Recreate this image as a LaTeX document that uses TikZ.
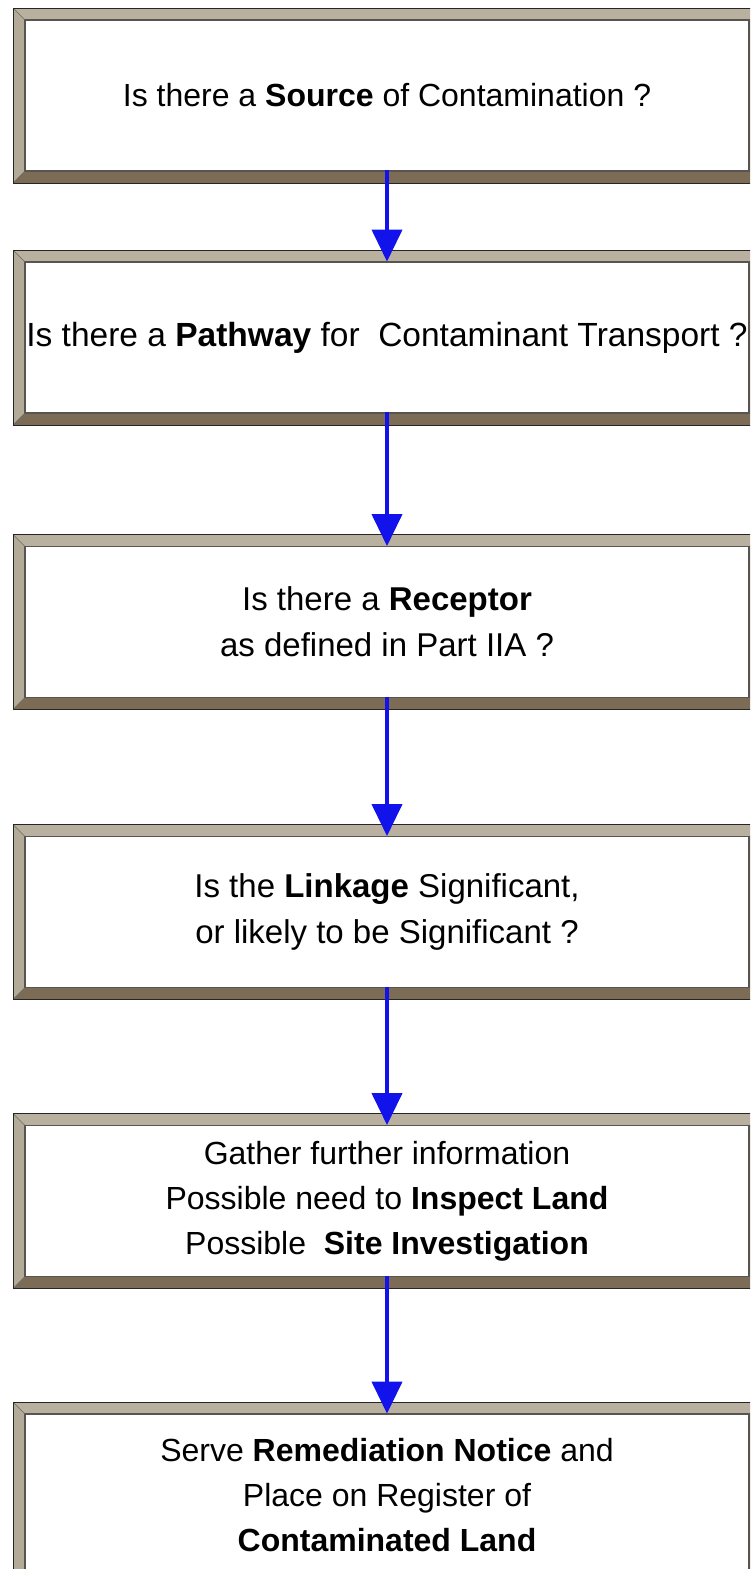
\documentclass[tikz,border=0pt]{standalone}
\usepackage{fontspec}
\setmainfont{Liberation Sans}
\usetikzlibrary{arrows.meta}
\definecolor{bevtop}{RGB}{186,176,159}
\definecolor{bevleft}{RGB}{180,170,152}
\definecolor{bevbot}{RGB}{124,108,86}
\definecolor{bevright}{RGB}{110,96,78}
\definecolor{innerline}{RGB}{88,84,80}
\definecolor{arrblue}{RGB}{18,18,235}
\tikzset{
  bevbox/.style={rectangle, minimum width=748pt, minimum height=175pt, inner sep=0pt,
    fill=white, draw=black!85, line width=0.8pt, align=center,
    font=\fontsize{32}{45}\selectfont,
    path picture={
      \fill[bevtop] (path picture bounding box.north west) -- (path picture bounding box.north east)
        -- ([shift={(-12pt,-12pt)}]path picture bounding box.north east)
        -- ([shift={(12pt,-12pt)}]path picture bounding box.north west) -- cycle;
      \fill[bevleft] (path picture bounding box.north west) -- (path picture bounding box.south west)
        -- ([shift={(12pt,12pt)}]path picture bounding box.south west)
        -- ([shift={(12pt,-12pt)}]path picture bounding box.north west) -- cycle;
      \fill[bevbot] (path picture bounding box.south west) -- (path picture bounding box.south east)
        -- ([shift={(-12pt,12pt)}]path picture bounding box.south east)
        -- ([shift={(12pt,12pt)}]path picture bounding box.south west) -- cycle;
      \fill[bevright] (path picture bounding box.north east) -- (path picture bounding box.south east)
        -- ([shift={(-12pt,12pt)}]path picture bounding box.south east)
        -- ([shift={(-12pt,-12pt)}]path picture bounding box.north east) -- cycle;
      \draw[innerline, line width=1.5pt] ([shift={(12pt,-12pt)}]path picture bounding box.north west)
        rectangle ([shift={(-12pt,12pt)}]path picture bounding box.south east);
      \draw[black!60, line width=0.6pt] (path picture bounding box.north west) -- ([shift={(12pt,-12pt)}]path picture bounding box.north west);
      \draw[black!60, line width=0.6pt] (path picture bounding box.south west) -- ([shift={(12pt,12pt)}]path picture bounding box.south west);
    }},
  arr/.style={draw=arrblue, line width=4pt, -{Triangle[width=30pt,length=32pt]}, arrblue}
}
\begin{document}
\begin{tikzpicture}[x=1pt,y=1pt]
\useasboundingbox (0,0) rectangle (750,-1569);
\clip (0,0) rectangle (750,-1569);
\node[bevbox] (b1) at (387,-95.5) {Is there a \textbf{Source} of Contamination ?};
\node[bevbox, font=\fontsize{33.5}{45}\selectfont] (b2) at (387,-337.5) {Is there a \textbf{Pathway} for\ \ Contaminant Transport ?};
\node[bevbox, font=\fontsize{33}{46}\selectfont] (b3) at (387,-622) {Is there a \textbf{Receptor}\\as defined in Part IIA ?};
\node[bevbox, font=\fontsize{33}{46}\selectfont] (b4) at (387,-912) {Is the \textbf{Linkage} Significant,\\or likely to be Significant ?};
\node[bevbox] (b5) at (387,-1201) {Gather further information\\Possible need to \textbf{Inspect Land}\\Possible\ \ \textbf{Site Investigation}};
\node[bevbox, minimum height=187pt] (b6) at (387,-1495.5) {Serve \textbf{Remediation Notice} and\\Place on Register of\\\textbf{Contaminated Land}};
\draw[arr] ([yshift=13pt]b1.south) -- ([yshift=-12pt]b2.north);
\draw[arr] ([yshift=13pt]b2.south) -- ([yshift=-12pt]b3.north);
\draw[arr] ([yshift=13pt]b3.south) -- ([yshift=-12pt]b4.north);
\draw[arr] ([yshift=13pt]b4.south) -- ([yshift=-12pt]b5.north);
\draw[arr] ([yshift=13pt]b5.south) -- ([yshift=-12pt]b6.north);
\end{tikzpicture}
\end{document}
